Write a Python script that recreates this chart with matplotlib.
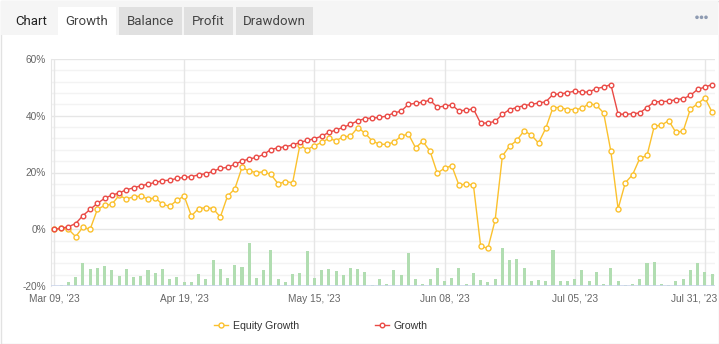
import matplotlib
matplotlib.use("Agg")
import matplotlib.pyplot as plt
from matplotlib.patches import Rectangle, Circle
from matplotlib.transforms import ScaledTranslation

plt.rcParams['font.family'] = ['Liberation Sans', 'DejaVu Sans']

# data (one point per trading day)
growth = [0.0, 0.3, 0.9, 2.0, 4.8, 7.0, 9.1, 10.9, 12.0, 12.8,
          13.9, 14.6, 15.3, 15.9, 16.5, 17.1, 17.3, 17.9, 18.3, 18.5,
          19.2, 19.6, 20.4, 21.5, 21.8, 22.9, 24.0, 24.8, 25.3, 26.4,
          28.1, 28.7, 29.1, 29.7, 30.6, 31.3, 31.9, 32.8, 34.1, 35.0,
          35.9, 37.0, 38.2, 39.0, 39.2, 39.4, 39.9, 41.0, 41.6, 44.0,
          44.4, 44.8, 45.5, 43.0, 43.4, 43.8, 41.7, 42.0, 42.4, 37.3,
          37.5, 38.0, 40.5, 42.2, 42.9, 43.6, 44.0, 44.5, 44.9, 47.5,
          47.7, 48.1, 48.7, 48.3, 48.4, 49.6, 50.1, 51.0, 40.6, 40.5,
          40.7, 41.0, 42.9, 44.9, 45.0, 45.1, 45.7, 46.0, 47.2, 49.3,
          50.1, 51.0]
equity = [0.0, 0.3, 0.0, -2.6, 0.7, 0.0, 7.0, 8.4, 8.8, 11.9,
          10.7, 11.4, 11.7, 10.7, 11.0, 8.8, 8.1, 10.2, 11.7, 4.7,
          7.3, 7.6, 7.3, 4.3, 11.7, 14.2, 21.8, 20.5, 20.0, 20.2,
          19.3, 16.0, 16.8, 16.4, 29.6, 28.1, 29.4, 30.6, 32.0, 31.2,
          32.6, 32.8, 35.8, 33.9, 31.1, 30.0, 29.9, 30.7, 32.8, 33.6,
          28.7, 31.0, 27.5, 19.8, 21.5, 22.4, 15.5, 16.0, 15.5, -6.0,
          -6.7, 3.2, 25.8, 29.3, 31.3, 34.7, 33.2, 30.4, 35.6, 42.9,
          42.9, 42.2, 42.2, 42.6, 44.3, 43.7, 41.0, 27.5, 7.2, 16.4,
          19.2, 25.0, 26.0, 36.3, 36.7, 38.3, 34.1, 34.6, 42.4, 44.2,
          46.3, 41.3]
volume = [0.0, 0.35, 1.4, 3.3, 8.1, 6.1, 6.3, 7.0, 5.7, 3.6,
          6.1, 3.2, 3.6, 5.5, 4.5, 6.0, 2.4, 3.2, 1.4, 1.4,
          4.3, 2.4, 9.3, 6.1, 2.9, 7.4, 6.8, 15.3, 2.9, 5.5,
          12.7, 2.6, 1.3, 4.1, 4.5, 12.4, 2.9, 5.7, 6.1, 5.2,
          3.9, 6.3, 6.1, 4.8, 0.35, 2.4, 0.6, 5.5, 3.9, 11.5,
          2.4, 0.7, 2.6, 6.3, 1.8, 2.9, 6.3, 0.7, 4.5, 2.0,
          1.4, 2.4, 13.3, 9.2, 9.5, 6.3, 1.7, 2.0, 1.7, 12.7,
          1.7, 1.7, 2.4, 5.5, 1.7, 4.9, 0.7, 6.3, 1.9, 0.3,
          0.6, 2.4, 8.0, 8.6, 0.7, 0.3, 1.7, 2.4, 5.8, 8.0,
          4.9, 4.2]
tick_labels = ["Mar 09, '23", "Apr 19, '23", "May 15, '23",
               "Jun 08, '23", "Jul 05, '23", "Jul 31, '23"]
tick_step = 18
y_ticks = [-20, 0, 20, 40, 60]
tabs = ["Chart", "Growth", "Balance", "Profit", "Drawdown"]

idx = list(range(len(growth)))
x_ticks = list(range(0, len(growth), tick_step))[:len(tick_labels)]

YELLOW = '#fbc12e'
RED = '#ea4a45'
GREEN = '#b1ddb1'

fig = plt.figure(figsize=(7.19, 3.44), dpi=100)

# widget frame and tab bar, drawn in pixel coordinates
bg = fig.add_axes([0, 0, 1, 1], zorder=-10)
bg.set_xlim(0, 719)
bg.set_ylim(344, 0)
bg.axis('off')
bg.add_patch(Rectangle((0.5, 0.5), 718, 343, facecolor='white', edgecolor='#e2e2e2', lw=1))
bg.add_patch(Rectangle((1, 1), 717, 34, facecolor='#f5f5f5', edgecolor='none'))
tab_boxes = [(4, 54, '#f5f5f5'), (58, 58, 'white'), (119, 63, '#e0e0e0'),
             (184, 49, '#e0e0e0'), (236, 77, '#e0e0e0')]
for name, (x0, w, fc) in zip(tabs, tab_boxes):
    bg.add_patch(Rectangle((x0, 7), w, 29 if fc == 'white' else 28, facecolor=fc, edgecolor='none'))
    bg.text(x0 + w / 2, 21.5, name, ha='center', va='center', fontsize=9.5,
            family='Roboto', color='#222' if name == 'Chart' else '#444')
for cx in (697, 701.5, 706):
    bg.add_patch(Circle((cx, 17.3), 1.8, facecolor='#8e9bb2', edgecolor='none'))

rect = [51 / 719, (344 - 286) / 344, (715 - 51) / 719, (286 - 59) / 344]
xlim = (-0.41, len(growth) - 0.6)

# bars + grid underneath
axb = fig.add_axes(rect)
axb.set_xlim(*xlim)
axb.set_ylim(0, 80)
for v in range(4, 81, 4):
    axb.axhline(v, color='#e6e6e6' if v % 20 == 0 else '#f3f3f3', lw=1, zorder=0)
for xt in x_ticks:
    axb.axvline(xt, color='#e6e6e6', lw=1, zorder=0)
axb.bar(idx, volume, width=0.42, color=GREEN, zorder=2)
axb.axhline(0, color='#ccd6eb', lw=1.2, zorder=3)
for s in ('top', 'right', 'bottom'):
    axb.spines[s].set_visible(False)
axb.spines['left'].set_color('#e6e6e6')
axb.set_xticks([])
axb.set_yticks([])

# growth lines on top
ax = fig.add_axes(rect)
ax.patch.set_visible(False)
ax.set_xlim(*xlim)
ax.set_ylim(-20, 60)
for s in ax.spines.values():
    s.set_visible(False)
l1, = ax.plot(idx, equity, color=YELLOW, lw=1, marker='o', ms=3.6,
              mfc='white', mec=YELLOW, mew=1.0, zorder=3, label='Equity Growth')
l2, = ax.plot(idx, growth, color=RED, lw=1, marker='o', ms=3.3,
              mfc='white', mec=RED, mew=1.0, zorder=4, label='Growth')
ax.set_yticks(y_ticks)
ax.set_yticklabels([f"{v}%" for v in y_ticks])
ax.set_xticks(x_ticks)
ax.set_xticklabels(tick_labels)
ax.tick_params(axis='y', length=0, pad=3.6, labelsize=7.3, labelcolor='#666666')
ax.tick_params(axis='x', length=0, pad=5.5, labelsize=7.3, labelcolor='#666666')

# last label is pulled inside the frame, like the reference
last = ax.get_xticklabels()[-1]
last.set_ha('right')
last.set_transform(last.get_transform() + ScaledTranslation(0.12, 0, fig.dpi_scale_trans))

leg = fig.legend(handles=[l1, l2], loc='center', bbox_to_anchor=(321 / 719, 1 - 326 / 344),
                 ncol=2, frameon=False, fontsize=7.6, handlelength=1.3,
                 handletextpad=0.45, columnspacing=7.2, numpoints=1)
for t in leg.get_texts():
    t.set_color('#333333')

fig.savefig('out.png', dpi=100)
